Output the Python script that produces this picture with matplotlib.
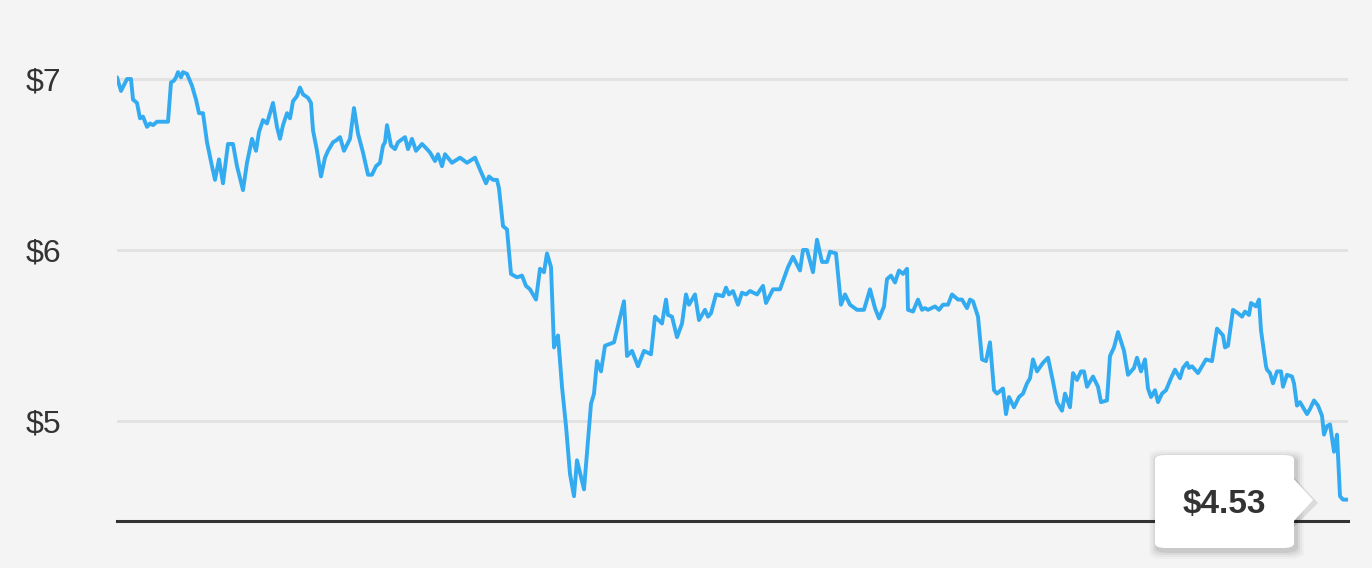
import matplotlib.pyplot as plt
from matplotlib.patches import FancyBboxPatch, Polygon

# time index (trading periods) and closing price
t = [0, 4, 10, 14, 16, 20, 23, 26, 30, 33, 36, 40, 51, 54, 57, 59, 61, 64, 66, 70,
     75, 79, 82, 86, 90, 95, 98, 102, 106, 111, 116, 120, 126, 130, 135, 139, 142, 146, 150, 156,
     160, 163, 166, 170, 173, 176, 180, 183, 186, 191, 194, 196, 200, 204, 208, 211, 216, 219, 223, 227,
     233, 237, 241, 246, 251, 255, 259, 263, 266, 268, 270, 274, 278, 281, 288, 291, 295, 299, 305, 310,
     313, 318, 321, 325, 328, 335, 343, 350, 358, 363, 369, 372, 376, 380, 382, 386, 390, 394, 400, 405,
     409, 413, 419, 423, 427, 430, 434, 437, 441, 445, 449, 453, 457, 460, 467, 474, 477, 480, 484, 488,
     497, 507, 510, 515, 521, 527, 534, 538, 545, 549, 551, 555, 560, 565, 569, 572, 578, 582, 588, 591,
     594, 599, 606, 609, 612, 616, 621, 625, 629, 633, 640, 646, 649, 656, 663, 671, 676, 683, 686, 690,
     696, 700, 705, 710, 713, 719, 724, 728, 733, 740, 744, 747, 753, 758, 762, 767, 770, 774, 778, 782,
     786, 790, 791, 796, 801, 805, 808, 811, 818, 822, 826, 831, 835, 841, 845, 850, 853, 856, 861, 865,
     869, 873, 877, 880, 886, 889, 892, 897, 902, 906, 910, 913, 916, 920, 926, 931, 936, 940, 945, 948,
     953, 956, 960, 964, 967, 970, 976, 981, 984, 990, 993, 997, 1001, 1007, 1011, 1017, 1020, 1024, 1028, 1031,
     1034, 1038, 1041, 1045, 1049, 1054, 1058, 1063, 1066, 1070, 1072, 1075, 1081, 1086, 1089, 1095, 1100, 1106, 1108, 1111,
     1116, 1121, 1125, 1128, 1132, 1134, 1139, 1142, 1144, 1149, 1150, 1153, 1156, 1160, 1164, 1166, 1170, 1175, 1177, 1180,
     1183, 1190, 1193, 1197, 1201, 1205, 1207, 1210, 1213, 1217, 1220, 1223, 1226, 1231]
price = [7.01, 6.93, 7.00, 7.00, 6.88, 6.86, 6.77, 6.78, 6.72, 6.74, 6.73, 6.75, 6.75, 6.98, 6.99, 7.01, 7.04, 7.01, 7.04, 7.03,
         6.96, 6.88, 6.80, 6.80, 6.63, 6.49, 6.41, 6.53, 6.39, 6.62, 6.62, 6.49, 6.35, 6.51, 6.65, 6.58, 6.69, 6.76, 6.74, 6.86,
         6.72, 6.65, 6.73, 6.80, 6.77, 6.87, 6.90, 6.95, 6.91, 6.89, 6.86, 6.70, 6.58, 6.43, 6.54, 6.58, 6.63, 6.64, 6.66, 6.58,
         6.65, 6.83, 6.68, 6.57, 6.44, 6.44, 6.49, 6.51, 6.61, 6.63, 6.73, 6.61, 6.59, 6.63, 6.66, 6.59, 6.65, 6.58, 6.62, 6.59,
         6.57, 6.52, 6.56, 6.49, 6.56, 6.51, 6.54, 6.51, 6.54, 6.47, 6.39, 6.43, 6.41, 6.41, 6.36, 6.14, 6.12, 5.86, 5.84, 5.85,
         5.79, 5.77, 5.71, 5.89, 5.87, 5.98, 5.90, 5.43, 5.50, 5.20, 4.97, 4.69, 4.56, 4.77, 4.60, 5.10, 5.16, 5.35, 5.29, 5.44,
         5.46, 5.70, 5.38, 5.41, 5.32, 5.41, 5.39, 5.61, 5.57, 5.71, 5.62, 5.61, 5.49, 5.57, 5.74, 5.68, 5.74, 5.59, 5.65, 5.61,
         5.63, 5.74, 5.73, 5.78, 5.74, 5.76, 5.68, 5.75, 5.74, 5.76, 5.74, 5.79, 5.69, 5.77, 5.77, 5.90, 5.96, 5.88, 6.00, 6.00,
         5.87, 6.06, 5.93, 5.93, 5.99, 5.98, 5.68, 5.74, 5.68, 5.65, 5.65, 5.65, 5.77, 5.66, 5.60, 5.67, 5.83, 5.85, 5.81, 5.88,
         5.86, 5.89, 5.65, 5.64, 5.71, 5.65, 5.66, 5.65, 5.67, 5.65, 5.68, 5.68, 5.74, 5.71, 5.71, 5.66, 5.71, 5.70, 5.61, 5.36,
         5.35, 5.46, 5.18, 5.16, 5.19, 5.04, 5.14, 5.08, 5.14, 5.16, 5.22, 5.25, 5.36, 5.29, 5.34, 5.37, 5.23, 5.11, 5.06, 5.16,
         5.08, 5.28, 5.24, 5.29, 5.29, 5.20, 5.26, 5.20, 5.11, 5.12, 5.38, 5.43, 5.52, 5.41, 5.27, 5.31, 5.37, 5.29, 5.36, 5.19,
         5.14, 5.18, 5.11, 5.16, 5.18, 5.25, 5.30, 5.25, 5.31, 5.34, 5.31, 5.32, 5.28, 5.33, 5.36, 5.35, 5.54, 5.50, 5.43, 5.44,
         5.65, 5.63, 5.61, 5.64, 5.62, 5.69, 5.67, 5.71, 5.53, 5.32, 5.30, 5.28, 5.22, 5.29, 5.29, 5.20, 5.27, 5.26, 5.22, 5.09,
         5.11, 5.04, 5.07, 5.12, 5.09, 5.03, 4.92, 4.97, 4.98, 4.82, 4.92, 4.56, 4.54, 4.54]

yticks = [5, 6, 7]
ytick_labels = ["$5", "$6", "$7"]
last_label = "$4.53"

W, H = 1372, 568
bg = "#f4f4f4"
fig = plt.figure(figsize=(W / 100, H / 100), dpi=100, facecolor=bg)
# axes box in pixels: x 117..1348, y 20..521 (from top)
ax = fig.add_axes([117 / W, (H - 521) / H, (1348 - 117) / W, (521 - 20) / H])
ax.set_facecolor(bg)

ax.plot(t, price, color="#33abf1", lw=2.8, solid_joinstyle="round",
        solid_capstyle="round", zorder=3)

ax.set_xlim(t[0], t[-1])
ax.set_ylim(4.415, 7.345)
ax.set_yticks(yticks)
ax.set_yticklabels(ytick_labels, fontsize=23, color="#333333", ha="left",
                   family="Liberation Sans")
ax.tick_params(axis="y", length=0, pad=66)
ax.set_xticks([])
ax.grid(axis="y", color="#e2e2e2", lw=2.2, zorder=0)
for s in ["top", "right", "left"]:
    ax.spines[s].set_visible(False)
ax.spines["bottom"].set_color("#333333")
ax.spines["bottom"].set_linewidth(2.2)


# tooltip with last price, drawn in figure pixels
def fx(px):
    return px / W


def fy(py):
    return (H - py) / H


bx0, bx1, by0, by1 = 1155, 1294, 455, 548
for off, a in [(8, 0.025), (6, 0.035), (4, 0.05), (2, 0.07)]:
    fig.patches.append(FancyBboxPatch((fx(bx0 - off + 2), fy(by1 + off + 3)),
                                      fx(bx1 - bx0 + 2 * off), (by1 - by0 + 2 * off) / H,
                                      boxstyle="round,pad=0,rounding_size=0.01",
                                      transform=fig.transFigure, fc="black", ec="none",
                                      alpha=a, zorder=5))
fig.patches.append(Polygon([(fx(bx1 - 2), fy(475)), (fx(1318), fy(503)), (fx(bx1 - 2), fy(529))],
                           closed=True, transform=fig.transFigure, fc="black", ec="none",
                           alpha=0.1, zorder=5))
fig.patches.append(FancyBboxPatch((fx(bx0), fy(by1)), fx(bx1 - bx0), (by1 - by0) / H,
                                  boxstyle="round,pad=0,rounding_size=0.008",
                                  transform=fig.transFigure, fc="white", ec="none", zorder=6))
fig.patches.append(Polygon([(fx(bx1 - 2), fy(477)), (fx(1313), fy(500)), (fx(bx1 - 2), fy(523))],
                           closed=True, transform=fig.transFigure, fc="white", ec="none", zorder=6))
fig.text(fx(1224), fy(505), last_label, ha="center", va="center", fontsize=24,
         fontweight="bold", color="#333333", family="Liberation Sans", zorder=7)

fig.savefig("out.png", dpi=100, facecolor=bg)
